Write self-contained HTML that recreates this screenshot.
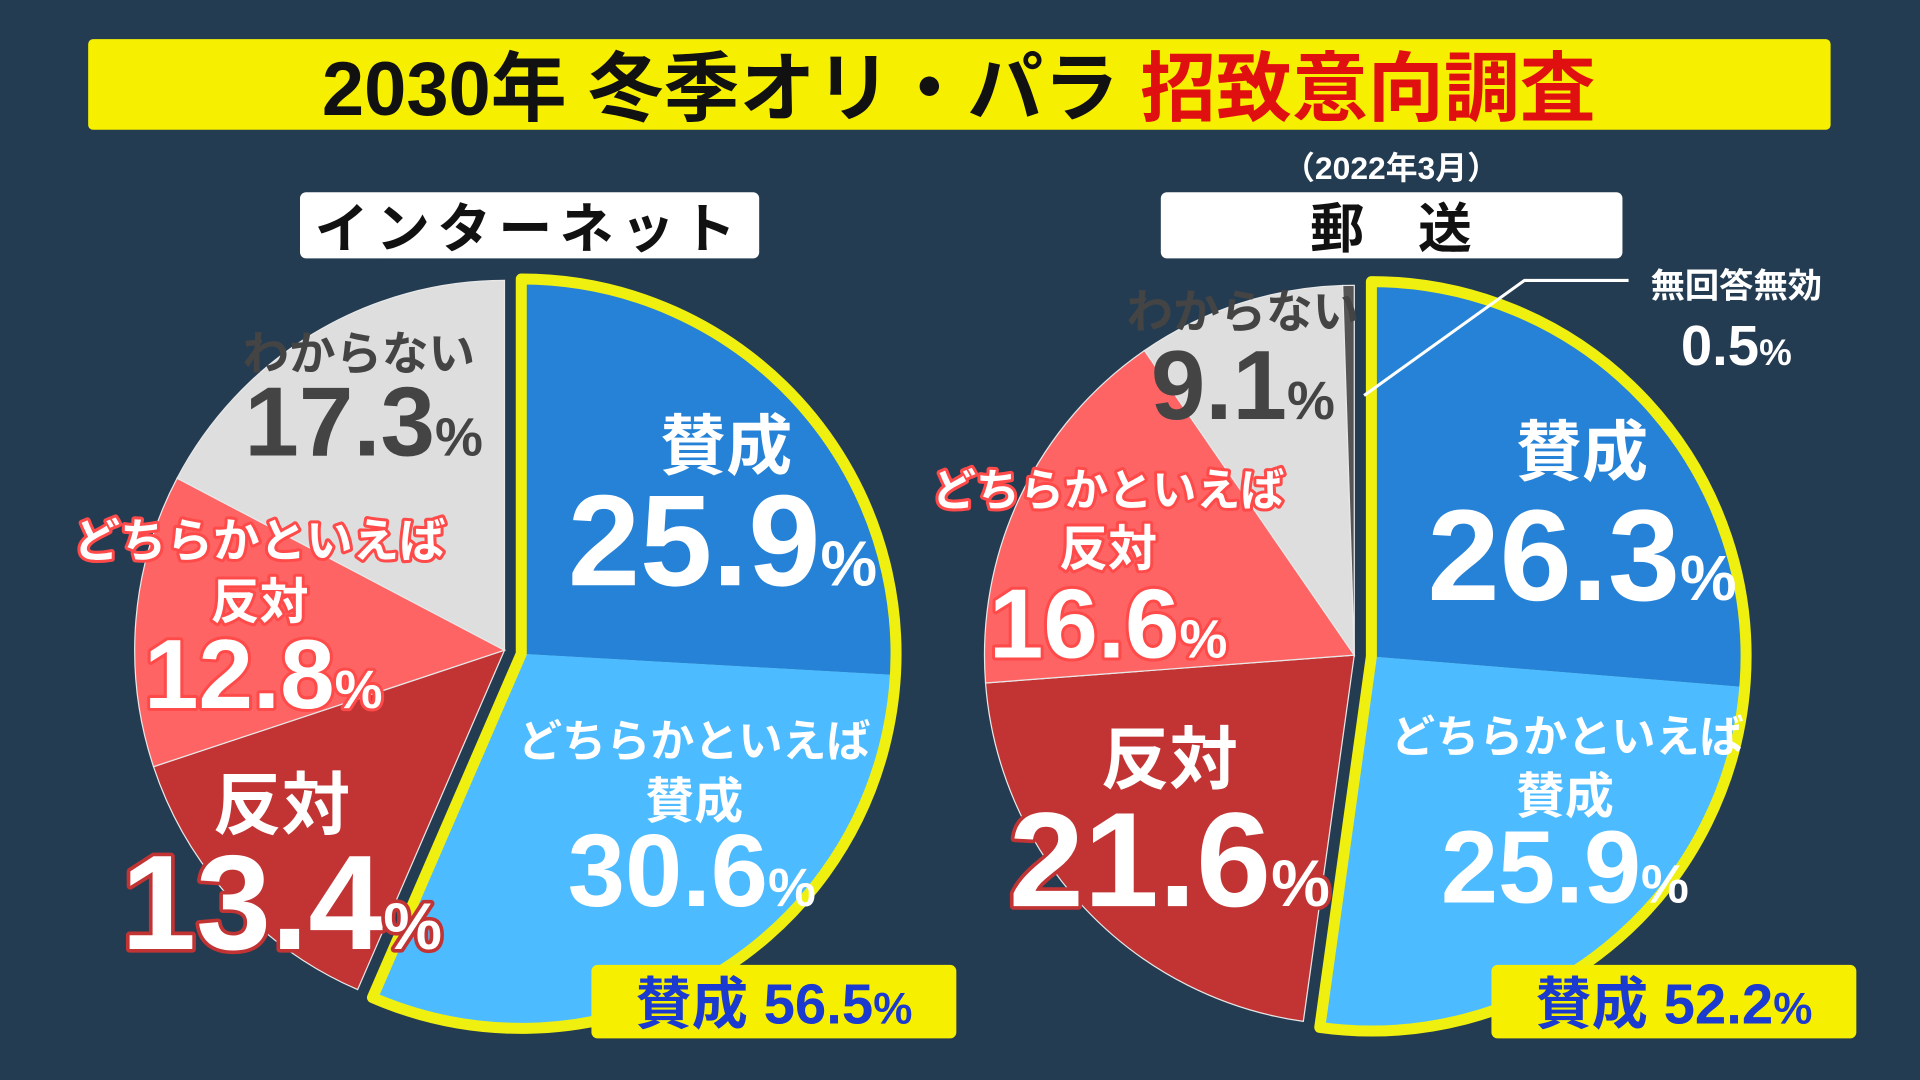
<!DOCTYPE html>
<html><head><meta charset="utf-8"><style>
html,body{margin:0;padding:0;background:#243c52;}
svg{display:block;}
text{font-family:"Liberation Sans","Noto Sans CJK JP",sans-serif;font-weight:bold;}
.o{paint-order:stroke;stroke-linejoin:round;}
</style></head><body>
<svg id="chart" width="1920" height="1080" viewBox="0 0 1568 882" xmlns="http://www.w3.org/2000/svg">
<rect width="1568" height="882" fill="#243c52"/>
<rect x="72" y="32" width="1423" height="74" rx="4" fill="#f6f000"/>
<text x="783" y="94" font-size="62" text-anchor="middle"><tspan fill="#111">2030年 冬季オリ・パラ </tspan><tspan fill="#e01010">招致意向調査</tspan></text>
<rect x="245" y="157" width="375" height="54" rx="5" fill="#fff"/>
<text x="432" y="202" font-size="44" text-anchor="middle" fill="#111" letter-spacing="6">インターネット</text>
<text x="1136" y="146" font-size="26" text-anchor="middle" fill="#fff">（2022年3月）</text>
<rect x="948" y="157" width="377" height="54" rx="5" fill="#fff"/>
<text x="1136" y="202" font-size="44" text-anchor="middle" fill="#111">郵　送</text>
<g id="pies"></g>
<g id="labels"></g>
</svg>
<script>
const categories=["賛成","どちらかといえば賛成","反対","どちらかといえば反対","わからない","無回答無効"];
const internetValues=[25.9,30.6,13.4,12.8,17.3];
const mailValues=[26.3,25.9,21.6,16.6,9.1,0.5];
const internetFavor=56.5;
const mailFavor=52.2;
const colors=["#2582d6","#4dbbff","#c23434","#ff6464","#dedede","#555555"];
const NS="http://www.w3.org/2000/svg";
const pies=document.getElementById('pies');
const labels=document.getElementById('labels');
function ang(v){return v/100*2*Math.PI;}
function pt(cx,cy,r,a){return [cx+r*Math.sin(a),cy-r*Math.cos(a)];}
function arcPath(cx,cy,r,a0,a1){const p0=pt(cx,cy,r,a0),p1=pt(cx,cy,r,a1);const large=(a1-a0)>Math.PI?1:0;return `M${cx},${cy}L${p0[0]},${p0[1]}A${r},${r} 0 ${large} 1 ${p1[0]},${p1[1]}Z`;}
function drawPie(name,values,cx,cy,r){
  const g=document.createElementNS(NS,'g');
  
  
  pies.appendChild(g);
  const favEnd=ang(values[0]+values[1]);
  const mid=favEnd/2;const off=14;
  const ex=cx+off*Math.sin(mid),ey=cy-off*Math.cos(mid);
  let acc=0;
  values.forEach((v,i)=>{
    const a0=ang(acc),a1=ang(acc+v);acc+=v;
    const fav=i<2;
    const p=document.createElementNS(NS,'path');
    p.setAttribute('d',arcPath(fav?ex:cx,fav?ey:cy,r,a0,a1));
    p.setAttribute('fill',colors[i]);
    if(!fav){p.setAttribute('stroke','#e8e8e8');p.setAttribute('stroke-width','1');}
    
    
    g.appendChild(p);
  });
  const y=document.createElementNS(NS,'path');
  y.setAttribute('d',arcPath(ex,ey,r+4,0,favEnd));
  y.setAttribute('fill','none');y.setAttribute('stroke','#f0f010');y.setAttribute('stroke-width','9');y.setAttribute('stroke-linejoin','round');
  
  
  g.appendChild(y);
}
drawPie('internet-pie',internetValues,412,531,302);
drawPie('mail-pie',mailValues,1106,535,302);
function txt(name,x,y,size,fill,content,stroke,sw,anchor){
  const t=document.createElementNS(NS,'text');
  t.setAttribute('x',x);t.setAttribute('y',y);t.setAttribute('font-size',size);t.setAttribute('fill',fill);
  t.setAttribute('text-anchor',anchor||'middle');
  if(stroke){t.setAttribute('stroke',stroke);t.setAttribute('stroke-width',sw);t.setAttribute('class','o');}
  t.innerHTML=content;
  
  
  labels.appendChild(t);return t;
}
function pct(v,big){return v.toFixed(1)+`<tspan font-size="${big}">%</tspan>`;}
txt('internet-favor-label',593,383,54,'#fff','賛成');
txt('internet-favor-value',590,478,106,'#fff',pct(internetValues[0],52));
txt('internet-some-favor-label',567,618,36,'#fff','どちらかといえば');
txt('internet-some-favor-label-2',567,668,40,'#fff','賛成');
txt('internet-some-favor-value',565,740,84,'#fff',pct(internetValues[1],44));
txt('internet-oppose-label',230,677,56,'#fff','反対');
txt('internet-oppose-value',230,775,110,'#fff',pct(internetValues[2],54),'#c23434',6);
txt('internet-some-oppose-label',212,455,38,'#fff','どちらかといえば','#ff4a4a',5);
txt('internet-some-oppose-label-2',212,505,40,'#fff','反対','#ff4a4a',5);
txt('internet-some-oppose-value',215,578,80,'#fff',pct(internetValues[3],44),'#ff4a4a',5);
txt('internet-unknown-label',293,302,38,'#444','わからない');
txt('internet-unknown-value',297,372,80,'#444',pct(internetValues[4],44));
txt('mail-favor-label',1292,388,54,'#fff','賛成');
txt('mail-favor-value',1292,490,106,'#fff',pct(mailValues[0],52));
txt('mail-some-favor-label',1280,614,36,'#fff','どちらかといえば');
txt('mail-some-favor-label-2',1278,664,40,'#fff','賛成');
txt('mail-some-favor-value',1278,737,84,'#fff',pct(mailValues[1],44));
txt('mail-oppose-label',955,640,56,'#fff','反対');
txt('mail-oppose-value',955,740,110,'#fff',pct(mailValues[2],54),'#c23434',6);
txt('mail-some-oppose-label',905,413,36,'#fff','どちらかといえば','#ff4a4a',5);
txt('mail-some-oppose-label-2',905,462,40,'#fff','反対','#ff4a4a',5);
txt('mail-some-oppose-value',905,537,80,'#fff',pct(mailValues[3],44),'#ff4a4a',5);
txt('mail-unknown-label',1015,268,38,'#444','わからない');
txt('mail-unknown-value',1015,342,80,'#444',pct(mailValues[4],44));
txt('mail-noanswer-label',1418,243,28,'#fff','無回答無効');
txt('mail-noanswer-value',1418,298,46,'#fff',pct(mailValues[5],30));
const ld=document.createElementNS(NS,'polyline');
ld.setAttribute('points','1330,229 1245,229 1114,323');ld.setAttribute('fill','none');ld.setAttribute('stroke','#fff');ld.setAttribute('stroke-width','2.5');


labels.appendChild(ld);
function badge(name,x,val){
  const r=document.createElementNS(NS,'rect');
  r.setAttribute('x',x);r.setAttribute('y',788);r.setAttribute('width',298);r.setAttribute('height',60);r.setAttribute('rx',5);r.setAttribute('fill','#f6f000');
  
  
  labels.appendChild(r);
  txt(name,x+149,836,46,'#1a3ad0','賛成 '+val.toFixed(1)+'<tspan font-size="36">%</tspan>');
}
badge('internet-favor-total',483,internetFavor);
badge('mail-favor-total',1218,mailFavor);
</script>
</body></html>
